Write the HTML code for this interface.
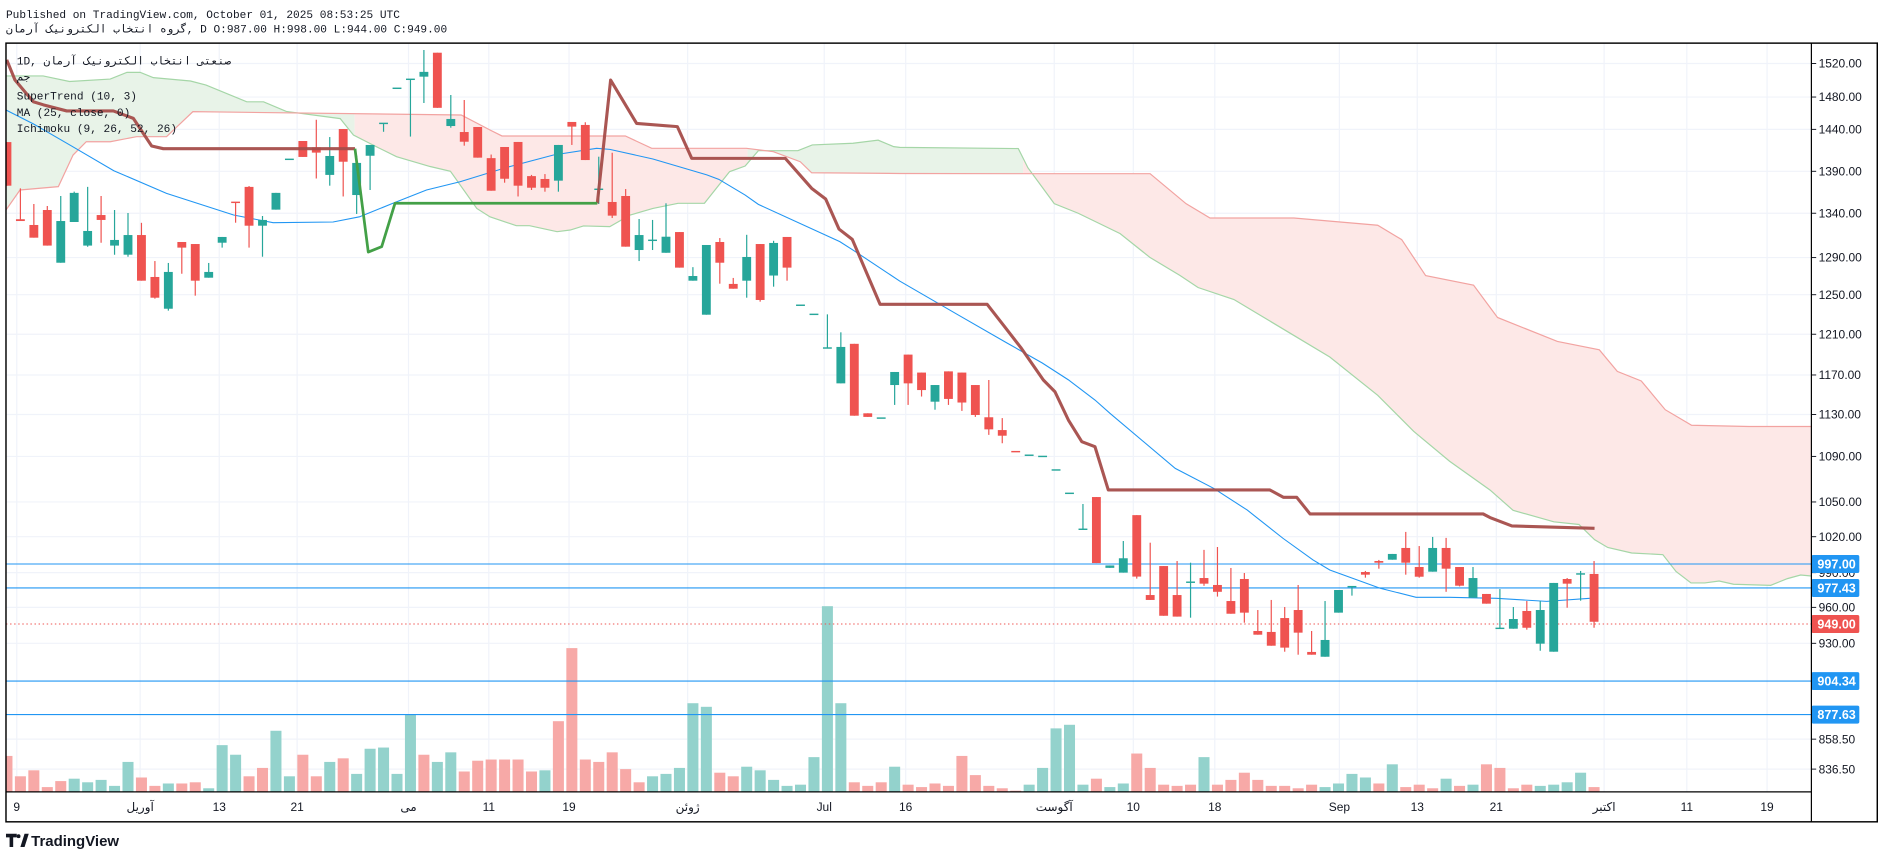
<!DOCTYPE html>
<html><head><meta charset="utf-8"><style>
html,body{margin:0;padding:0;background:#fff;overflow:hidden}
svg{display:block}
</style></head><body>
<svg id="s" width="1878" height="858" viewBox="0 0 1567.6 716.2" preserveAspectRatio="none" xmlns="http://www.w3.org/2000/svg">
<defs><clipPath id="cp"><rect x="5" y="36" width="1507" height="625"/></clipPath></defs>
<rect width="1567.6" height="716.2" fill="#fff"/>
<g id="grid" stroke="#f0f3fa" stroke-width="1"></g>
<g id="plot" clip-path="url(#cp)"></g>
<g id="axis" font-family="Liberation Sans, sans-serif" font-size="10" fill="#131722"></g>
<rect x="5" y="36" width="1562" height="650" fill="none" stroke="#000" stroke-width="1.2"/>
<line x1="1512" y1="36" x2="1512" y2="686" stroke="#000" stroke-width="1"/>
<line x1="5" y1="661" x2="1512" y2="661" stroke="#000" stroke-width="1"/>
<g font-family="Liberation Mono, Noto Sans CJK SC, DejaVu Sans Mono, monospace" font-size="9.3" fill="#131722">
<text x="5" y="15">Published on TradingView.com, October 01, 2025 08:53:25 UTC</text>
<text x="5" y="27">گروه انتخاب الکترونیک آرمان, D O:987.00 H:998.00 L:944.00 C:949.00</text>
<text x="14" y="54">1D, صنعتی انتخاب الکترونیک آرمان</text>
<text x="14" y="67">جم</text>
<text x="14" y="83">SuperTrend (10, 3)</text>
<text x="14" y="97">MA (25, close, 0)</text>
<text x="14" y="110">Ichimoku (9, 26, 52, 26)</text>
</g>
<g>
<path d="M5 696 h9 v3 h-3 v8 h-3 v-8 h-3z" fill="#131722"/>
<circle cx="15.5" cy="698" r="1.6" fill="#131722"/>
<path d="M17 707 l3.5 -11 h3.5 l-3.5 11z" fill="#131722"/>
<text x="26" y="706" font-family="Liberation Sans, sans-serif" font-weight="bold" font-size="12.5" fill="#131722">TradingView</text>
</g>
</svg>
<script>
var S='http://www.w3.org/2000/svg';
function el(p,t,a,txt){var e=document.createElementNS(S,t);for(var k in a)e.setAttribute(k,a[k]);if(txt!=null)e.textContent=txt;document.getElementById(p).appendChild(e);return e;}
function pl(p,pts,a){a.points=pts.map(function(q){return q.join(',')}).join(' ');a.fill=a.fill||'none';return el(p,'polyline',a);}
function Y(p){return 7311.6-990.8*Math.log(p);}
// grid
var gy=[53,81,108,143,178,215,246,279,313,346,381,419,448,478,507,537,617,642];
gy.forEach(function(y){el('grid','line',{x1:5,x2:1512,y1:y,y2:y});});
var dx=[[14,'9'],[117,'آوریل'],[183,'13'],[248,'21'],[341,'مى'],[408,'11'],[475,'19'],[574,'ژوئن'],[688,'Jul'],[756,'16'],[880,'آگوست'],[946,'10'],[1014,'18'],[1118,'Sep'],[1183,'13'],[1249,'21'],[1339,'اکتبر'],[1408,'11'],[1475,'19']];
dx.forEach(function(d){el('grid','line',{x1:d[0],x2:d[0],y1:36,y2:661});});
// cloud
var A=[[5,63.4],[36,63.4],[58,68],[92,66],[106,60.4],[117,60.4],[128,64.8],[159,67.6],[172,71],[206,85],[220,85],[239,93],[284,99],[295,112.7],[314,122.4],[331,130.8],[359,139],[376,143],[398,174],[409,181],[431,188.4],[442,188.4],[465,193.4],[476,192],[487,188.6],[509,189.2],[526,179.5],[545,174],[566,169.7],[588,169.7],[609,143.3],[622,138.6],[633,125.8],[666,125.8],[678,121],[712,119.6],[733,117],[746,122.4],[751,123],[850,124],[858,140],[880,170],[900,178],[935,195],[960,215],[985,230],[1000,240],[1030,250],[1050,262],[1080,280],[1110,298],[1150,330],[1180,360],[1210,385],[1243.7,409],[1263,426],[1297,435.6],[1318,437.8],[1331,450.5],[1342,457],[1362,461.6],[1388,463],[1399,477],[1411.5,486.6],[1423,486.6],[1435,485],[1447,487.7],[1478,488.6],[1492,483],[1503,480],[1512,480.8]];
var B=[[5,175.3],[16.7,158.6],[48.7,155.8],[61,129.4],[72,118.3],[92,118.3],[114,114.1],[139,114.1],[161,93.2],[385,96],[409,108.5],[419,113.5],[522,113.5],[544,123.8],[623,123.8],[645.5,126.6],[668,135],[677.5,144.2],[751,144.8],[860,145],[960,145],[990,170],[1010,182],[1080,182],[1150,188],[1170,200],[1190,230],[1230,238],[1250,265],[1300,285],[1335,292],[1350,310],[1370,318],[1390,342],[1412,355],[1460,356],[1512,356]];
function interp(L,x){for(var i=0;i<L.length-1;i++){if(x>=L[i][0]&&x<=L[i+1][0]){var t=(x-L[i][0])/(L[i+1][0]-L[i][0]||1);return L[i][1]+t*(L[i+1][1]-L[i][1]);}}return L[L.length-1][1];}
var segs=[[5,296,'#e8f3e8'],[296,624,'#fde8e7'],[624,854,'#e8f3e8'],[854,1512,'#fde8e7']];
segs.forEach(function(s){var top=[],bot=[];for(var x=s[0];x<=s[1];x+=1){top.push([x,interp(A,x)]);bot.push([x,interp(B,x)]);}var pts=top.concat(bot.reverse());el('plot','polygon',{points:pts.map(function(q){return q.join(',')}).join(' '),fill:s[2]});});
pl('plot',A,{stroke:'#a5d6a7',"stroke-width":1});
pl('plot',B,{stroke:'#f2a3a1',"stroke-width":1});
// volume
var V=[[631,0],[648,0],[643,0],[657,0],[652,0],[650,1],[653,1],[651,1],[656,1],[636,1],[649,0],[656,0],[654,1],[654,0],[653,0],[658,1],[622,1],[630,1],[648,0],[641,0],[610,1],[648,1],[630,0],[648,0],[636,1],[633,0],[646,1],[625,1],[624,1],[646,1],[596,1],[630,0],[636,1],[628,1],[644,0],[635,0],[634,0],[634,0],[634,0],[644,0],[643,1],[602,0],[541,0],[634,0],[636,0],[628,0],[642,0],[653,0],[648,1],[646,1],[641,1],[587,1],[590,1],[645,0],[648,0],[640,1],[643,1],[651,1],[656,1],[655,1],[632,1],[506,1],[587,1],[653,0],[656,0],[653,0],[640,1],[655,0],[657,0],[654,0],[656,0],[631,0],[647,0],[656,0],[658,0],[660,0],[655,1],[641,1],[608,1],[605,1],[655,1],[650,0],[657,1],[654,1],[629,0],[641,0],[655,0],[656,0],[655,0],[632,1],[655,0],[651,0],[645,0],[651,0],[656,0],[656,0],[658,0],[655,0],[657,1],[654,1],[646,1],[649,1],[654,0],[638,1],[657,0],[655,0],[658,0],[650,1],[656,0],[655,1],[638,0],[641,0],[658,0],[655,0],[656,1],[655,1],[653,1],[645,1],[657,0]];
function X(i){return 5.8+11.227*i;}
V.forEach(function(v,i){el('plot','rect',{x:X(i)-4.6,y:v[0],width:9.2,height:661-v[0],fill:v[1]?'#93d2cc':'#f7a9a7'});});
// MA
var MA=[[5,91.8],[28,103.5],[60,122],[95,142.5],[139,161.4],[195,179.5],[228,185.9],[278,185.3],[300,181],[328,169.7],[356,158.6],[384,151.7],[423,139.7],[462,129.4],[498,123.8],[509,124.7],[545,132.7],[590,146],[600,149.7],[622,162.8],[633,170.6],[701,201.7],[712,208.7],[751,234.6],[800,263],[840,286],[870,303],[892,317.2],[914,333.9],[926.5,345],[981,391],[1013,407.6],[1041,425.7],[1049,432],[1071,449.4],[1096,467.4],[1110,475.8],[1152,491],[1182,498.6],[1210,498.6],[1249,499.4],[1291,502],[1327,499.4]];
pl('plot',MA,{stroke:'#2196f3',"stroke-width":0.9});
// horizontal lines
[[470.8,'#2196f3'],[490.8,'#2196f3'],[568.5,'#2196f3'],[596.5,'#2196f3']].forEach(function(h){el('plot','line',{x1:5,x2:1512,y1:h[0],y2:h[0],stroke:h[1],"stroke-width":0.9});});
el('plot','line',{x1:5,x2:1512,y1:520.9,y2:520.9,stroke:'#ef5350',"stroke-width":0.8,"stroke-dasharray":'1.2 2.2'});
// candles [i,g,bt,bb,wt,wb]
var C=[[0,0,118.6,155,118.6,155],[1,0,183,184.5,157.2,184.5],[2,0,187.8,198.4,170.3,198.4],[3,0,175.3,205,172,205],[4,1,184.5,219.3,163.6,219.3],[5,1,161,185.3,160,185.3],[6,1,192.8,205,156,206],[7,0,179.5,183.6,163.6,202.6],[8,1,200.3,205,175.3,212.6],[9,1,196.2,212.6,177.8,214.3],[10,0,196.2,234.3,186,234.3],[11,0,231.2,248.5,217.9,249.3],[12,1,227,257.7,219.5,259.3],[13,0,202,206.7,202,228.5],[14,0,203.7,234.3,203.7,246.8],[15,1,227,231.8,219.5,231.8],[16,1,197.8,202.6,197.8,206.7],[17,0,168.9,170,168.9,185.9],[18,0,156,188.4,155.3,206.7],[19,1,183.6,188.4,180.3,214.3],[20,1,161,175,161,175],[21,1,133,133,133,133],[22,0,117.7,131,117.7,131],[23,0,123,127.4,100,149],[24,1,130.2,146,114.4,155],[25,0,107.7,135,107.7,164],[26,1,136,162.8,130,178.6],[27,1,121,130,121,158.6],[28,1,103,103,103,110],[29,1,73.7,73.7,73.7,73.7],[30,1,66.2,66.2,66.2,114],[31,1,60,64,41.7,86],[32,0,44,90,44,90],[33,1,99.3,105.2,79.3,106.6],[34,0,110.2,118.3,83.5,121.6],[35,0,106,131.6,106,131.6],[36,0,132,159.2,129,159.2],[37,0,122.7,149.2,122.7,152.5],[38,0,118.5,155,118.5,164],[39,0,147,156.7,146,158.6],[40,0,149.4,156.7,145.3,160],[41,1,121,150.8,121,160],[42,0,101.8,105.7,101.8,121],[43,0,104.3,133.6,102,133.6],[44,1,158,158,130.8,170.3],[45,0,168.6,180,127.5,182],[46,0,163.6,205.9,157.8,205.9],[47,1,196.2,208.7,182.8,217.9],[48,1,200.6,200.6,183.6,208.7],[49,1,197.6,211,169.7,211],[50,0,193.7,223.4,193.7,223.4],[51,1,230.4,234.3,223,234.3],[52,1,204.5,262.7,204.5,262.7],[53,0,202,219.3,198.7,236.8],[54,0,237,241,232,241],[55,1,214.5,234.3,196,248.5],[56,0,203.7,250.4,203.7,251.8],[57,1,202.8,230,201,239.3],[58,0,197.8,223.4,197.8,234.3],[59,1,254.8,254.8,254.8,254.8],[60,1,262.4,262.4,262.4,262.4],[61,1,290.5,290.5,262.4,290.5],[62,1,289.6,320,277.4,320],[63,0,287,347,287,347],[64,0,345,348,345,348],[65,1,349,349,349,349],[66,1,310.5,321.4,310.5,338],[67,0,296,320,296,338],[68,0,311,325.6,311,331],[69,1,321.4,335.3,321.4,342],[70,0,310,333,310,338],[71,0,311,336,311,343],[72,0,321.4,346.4,321.4,348],[73,0,348.3,358.4,317.2,363],[74,0,359,363.7,349,370],[75,0,377,377,377,377],[76,1,380,380,380,380],[77,1,381,381,381,381],[78,1,392.3,392.3,392.3,392.3],[79,1,411.8,411.8,411.8,411.8],[80,1,441.8,441.8,420.7,441.8],[81,0,414.9,470,414.9,470],[82,1,472,474,472,474],[83,1,466,478,451.6,478],[84,0,430,481.3,430,483],[85,0,496.7,500.8,453,500.8],[86,0,472.5,514,472.5,514],[87,0,496.7,514.7,468.3,514.7],[88,1,486,486,469.7,515.6],[89,0,482.5,487.2,459,489],[90,0,488.3,494,456.6,498],[91,0,501.7,512.3,474.1,512.3],[92,0,483.3,511.4,478.3,519.8],[93,0,526.7,529.8,509.2,529.8],[94,0,527.5,539,500.8,539],[95,0,515.9,540.6,506.7,544],[96,0,509.2,528.1,488.3,546.5],[97,0,544.2,546.5,526.7,546.5],[98,1,534.2,548.2,501.7,548.2],[99,1,492.5,511.4,492.5,511.4],[100,1,489.7,489.7,489.7,497.2],[101,0,477.5,479.7,476.6,482.2],[102,0,468.3,469.7,467.4,474.7],[103,1,462.4,467.2,462.4,467.2],[104,0,457.4,469.7,444,479.7],[105,0,473.3,481.4,455.8,482.2],[106,1,457.4,477.2,448.2,477.2],[107,0,457.4,474.7,449,494],[108,0,473.3,488.9,473.3,489.5],[109,1,482.5,498.9,473.3,498.9],[110,0,495.8,503.9,495.8,503.9],[111,1,524.5,524.5,491.7,524.5],[112,1,516.7,524.8,506.7,524.8],[113,0,510,524,501.7,525.6],[114,1,509.2,537.3,501.7,543.2],[115,1,486.6,544,486.6,544],[116,0,483.3,487.2,482.5,507.3],[117,1,479.1,479.1,476.6,501.4],[118,0,479.1,519,468.3,524]];
C.forEach(function(c){var x=X(c[0]),col=c[1]?'#26a69a':'#ef5350';el('plot','line',{x1:x,x2:x,y1:c[4],y2:c[5],stroke:col,"stroke-width":1});var h=Math.max(c[3]-c[2],1.2);el('plot','rect',{x:x-3.7,y:c[2]-(c[3]-c[2]<1.2?0.6:0),width:7.4,height:h,fill:col});});
// supertrend
var STr1=[[5.6,50],[12.5,66.8],[27.8,84.9],[36.2,87.5],[55.7,92.6],[94.6,92.6],[111.3,98.8],[126.6,121.9],[136.3,124.1],[296.3,124.1]];
var STg=[[296.3,124.1],[307.4,210.4],[318.6,205.9],[329.7,169.7],[498.6,169.7]];
var STr2=[[498.6,169.7],[509.7,66.8],[531.4,103],[565.4,105.7],[577.4,132.2],[655.5,132.2],[677.5,157.2],[689.2,166.1],[700.3,191.2],[711.4,199.8],[734.6,254],[824,254],[838,272],[852,290],[870.9,317.2],[880.6,327],[891.8,350.6],[903,368.7],[914,372.9],[925.1,409],[1060,409],[1071.2,415.1],[1082.4,415.1],[1093.5,429],[1238,429],[1243.7,432],[1262,439],[1331,441]];
pl('plot',STr1,{stroke:'#a54d4a',"stroke-width":2.6,"stroke-linejoin":'round',opacity:0.95});
pl('plot',STr2,{stroke:'#a54d4a',"stroke-width":2.6,"stroke-linejoin":'round',opacity:0.95});
pl('plot',STg,{stroke:'#43a047',"stroke-width":2.3,"stroke-linejoin":'round'});
// axis labels
var L=[[53,'1520.00'],[81,'1480.00'],[108,'1440.00'],[143,'1390.00'],[178,'1340.00'],[215,'1290.00'],[246,'1250.00'],[279,'1210.00'],[313,'1170.00'],[346,'1130.00'],[381,'1090.00'],[419,'1050.00'],[448,'1020.00'],[478,'990.00'],[507,'960.00'],[537,'930.00'],[617,'858.50'],[642,'836.50']];
L.forEach(function(l){el('axis','line',{x1:1512,x2:1516,y1:l[0],y2:l[0],stroke:'#131722',"stroke-width":0.8});el('axis','text',{x:1518,y:l[0]+3.5},l[1]);});
[[470.8,'#2196f3','997.00'],[490.8,'#2196f3','977.43'],[520.9,'#ef5350','949.00'],[568.5,'#2196f3','904.34'],[596.5,'#2196f3','877.63']].forEach(function(b){el('axis','rect',{x:1512,y:b[0]-7.5,width:40,height:15,rx:1.5,fill:b[1]});el('axis','text',{x:1517,y:b[0]+3.6,fill:'#fff',"font-weight":'bold',"font-size":10.5},b[2]);});
dx.forEach(function(d){el('axis','text',{x:d[0],y:677,"text-anchor":'middle',"font-family":'Liberation Sans, Noto Sans CJK SC, DejaVu Sans, sans-serif'},d[1]);});
</script>
</body></html>
